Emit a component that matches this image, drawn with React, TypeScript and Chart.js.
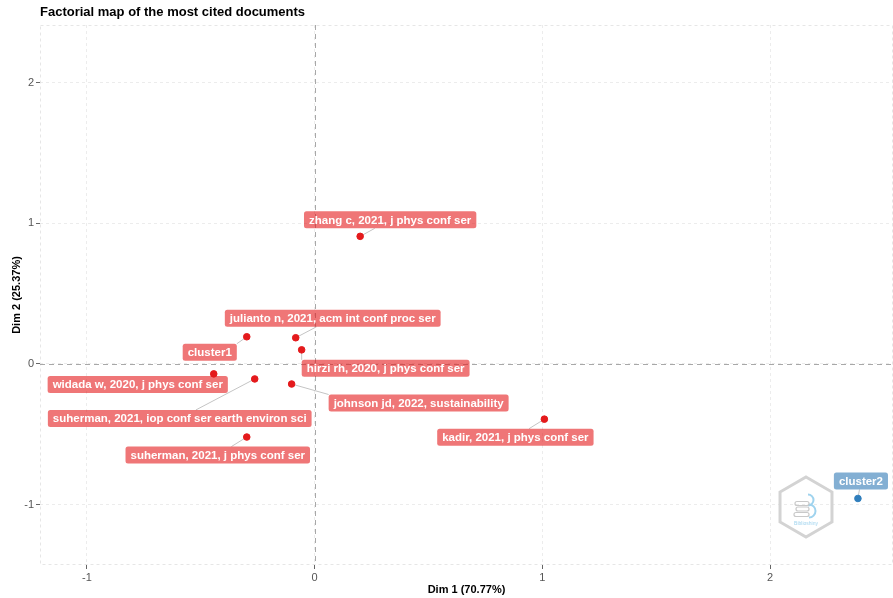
import React, { useEffect, useRef } from "react";
import { Chart, registerables } from "chart.js";

Chart.register(...registerables);

const TITLE = "Factorial map of the most cited documents";
const X_TITLE = "Dim 1 (70.77%)";
const Y_TITLE = "Dim 2 (25.37%)";
const X_TICKS = [-1, 0, 1, 2];
const Y_TICKS = [-1, 0, 1, 2];

const DOCS = [
  "zhang c, 2021, j phys conf ser",
  "julianto n, 2021, acm int conf proc ser",
  "hirzi rh, 2020, j phys conf ser",
  "widada w, 2020, j phys conf ser",
  "suherman, 2021, iop conf ser earth environ sci",
  "johnson jd, 2022, sustainability",
  "suherman, 2021, j phys conf ser",
  "kadir, 2021, j phys conf ser",
];
const DOC_DIM1 = [0.2, -0.083, -0.057, -0.443, -0.263, -0.101, -0.298, 1.009];
const DOC_DIM2 = [0.907, 0.186, 0.1, -0.071, -0.107, -0.143, -0.52, -0.393];

const CLUSTER1 = ["cluster1"];
const CLUSTER1_DIM1 = [-0.298];
const CLUSTER1_DIM2 = [0.193];
const CLUSTER2 = ["cluster2"];
const CLUSTER2_DIM1 = [2.386];
const CLUSTER2_DIM2 = [-0.957];

// label placement offsets (px) relative to their point (repel layout)
const DOC_LABEL_OFFSETS = [
  [30, -16.5],
  [37, -19.5],
  [84, 18.5],
  [-76, 10.5],
  [-75, 39.5],
  [127, 19],
  [-29, 18],
  [-29, 18],
];
const CLUSTER1_LABEL_OFFSETS = [[-37, 15.5]];
const CLUSTER2_LABEL_OFFSETS = [[3, -17.5]];

const RED = "#E41A1C";
const BLUE = "#2F7EBC";
const RED_LABEL = "rgba(228,26,28,0.6)";
const BLUE_LABEL = "rgba(55,126,184,0.62)";
const FONT = "'Liberation Sans', Arial, Helvetica, sans-serif";

const toPts = (xs: number[], ys: number[]) => xs.map((x, i) => ({ x, y: ys[i] }));

function segmentEnd(px: number, py: number, b: any) {
  const xin = px > b.x0 && px < b.x1;
  const yin = py > b.y0 && py < b.y1;
  if (!xin && !yin) {
    const ex = Math.abs(px - b.x0) < Math.abs(px - b.x1) ? b.x0 : b.x1;
    const ey = Math.abs(py - b.y0) < Math.abs(py - b.y1) ? b.y0 : b.y1;
    return [ex, ey];
  }
  const lcx = (b.x0 + b.x1) / 2, lcy = (b.y0 + b.y1) / 2;
  const dx = lcx - px, dy = lcy - py;
  const tx = dx !== 0 ? (dx > 0 ? (b.x0 - px) / dx : (b.x1 - px) / dx) : -1;
  const ty = dy !== 0 ? (dy > 0 ? (b.y0 - py) / dy : (b.y1 - py) / dy) : -1;
  const t = Math.max(tx, ty);
  return [px + dx * t, py + dy * t];
}

const labelsPlugin = {
  id: "repelLabels",
  beforeDatasetsDraw(chart: any) {
    const { ctx, chartArea, scales } = chart;
    ctx.save();
    // panel border
    ctx.strokeStyle = "#e6e6e6";
    ctx.lineWidth = 1;
    ctx.setLineDash([3, 3]);
    ctx.strokeRect(chartArea.left + 0.5, chartArea.top + 0.5, chartArea.right - chartArea.left - 1, chartArea.bottom - chartArea.top - 1);
    // zero lines
    ctx.strokeStyle = "#a8a8a8";
    ctx.setLineDash([5, 4]);
    const x0 = Math.round(scales.x.getPixelForValue(0)) + 0.5;
    const y0 = Math.round(scales.y.getPixelForValue(0)) + 0.5;
    ctx.beginPath();
    ctx.moveTo(x0, chartArea.top);
    ctx.lineTo(x0, chartArea.bottom);
    ctx.moveTo(chartArea.left, y0);
    ctx.lineTo(chartArea.right, y0);
    ctx.stroke();
    ctx.setLineDash([]);

    // logo
    const cx = 806, cy = 507, r = 30;
    ctx.strokeStyle = "#d3d3d3";
    ctx.lineWidth = 3;
    ctx.beginPath();
    for (let k = 0; k < 6; k++) {
      const a = -Math.PI / 2 + (k * Math.PI) / 3;
      const px = cx + r * Math.cos(a);
      const py = cy + r * Math.sin(a);
      if (k === 0) ctx.moveTo(px, py);
      else ctx.lineTo(px, py);
    }
    ctx.closePath();
    ctx.stroke();
    ctx.lineWidth = 2;
    ctx.strokeStyle = "#9fd3ee";
    ctx.beginPath();
    ctx.arc(808, 500, 5.5, -Math.PI / 2, Math.PI / 2);
    ctx.stroke();
    ctx.beginPath();
    ctx.arc(809, 511, 6.5, -Math.PI / 2, Math.PI / 2);
    ctx.stroke();
    ctx.strokeStyle = "#c9c9c9";
    ctx.lineWidth = 1.2;
    const pill = (x: number, y: number, w: number, h: number) => {
      ctx.beginPath();
      ctx.moveTo(x + h / 2, y);
      ctx.lineTo(x + w - h / 2, y);
      ctx.arc(x + w - h / 2, y + h / 2, h / 2, -Math.PI / 2, Math.PI / 2);
      ctx.lineTo(x + h / 2, y + h);
      ctx.arc(x + h / 2, y + h / 2, h / 2, Math.PI / 2, (3 * Math.PI) / 2);
      ctx.stroke();
    };
    pill(795, 501.5, 14, 4);
    pill(796, 507, 13, 4);
    pill(794, 512.5, 15, 4);
    ctx.fillStyle = "#9fd3ee";
    ctx.font = `5px ${FONT}`;
    ctx.textAlign = "center";
    ctx.textBaseline = "middle";
    ctx.fillText("Biblioshiny", 806, 524);

    // segments
    ctx.strokeStyle = "#c4c4c4";
    ctx.lineWidth = 1;
    chart.data.datasets.forEach((ds: any, di: number) => {
      const meta = chart.getDatasetMeta(di);
      meta.data.forEach((el: any, i: number) => {
        const box = labelBox(ctx, el.x, el.y, ds.labelTexts[i], ds.labelOffsets[i]);
        const pad = 4;
        if (el.x > box.x0 - pad && el.x < box.x1 + pad && el.y > box.y0 - pad && el.y < box.y1 + pad) return;
        const [ex, ey] = segmentEnd(el.x, el.y, box);
        const len = Math.hypot(ex - el.x, ey - el.y);
        if (len > 5) {
          const sx = el.x + ((ex - el.x) / len) * 2.5;
          const sy = el.y + ((ey - el.y) / len) * 2.5;
          ctx.beginPath();
          ctx.moveTo(sx, sy);
          ctx.lineTo(ex, ey);
          ctx.stroke();
        }
      });
    });
    ctx.restore();
  },
  afterDatasetsDraw(chart: any) {
    const { ctx } = chart;
    ctx.save();
    chart.data.datasets.forEach((ds: any, di: number) => {
      const meta = chart.getDatasetMeta(di);
      meta.data.forEach((el: any, i: number) => {
        const box = labelBox(ctx, el.x, el.y, ds.labelTexts[i], ds.labelOffsets[i]);
        ctx.fillStyle = ds.labelFill;
        roundRect(ctx, box.x0, box.y0, box.x1 - box.x0, box.y1 - box.y0, 2.5);
        ctx.fill();
        ctx.fillStyle = "#ffffff";
        ctx.font = `bold 11.5px ${FONT}`;
        ctx.textAlign = "center";
        ctx.textBaseline = "middle";
        ctx.fillText(ds.labelTexts[i], (box.x0 + box.x1) / 2, (box.y0 + box.y1) / 2 + 0.5);
      });
    });
    // title
    ctx.fillStyle = "#000";
    ctx.font = `bold 13px ${FONT}`;
    ctx.textAlign = "left";
    ctx.textBaseline = "middle";
    ctx.fillText(TITLE, chart.chartArea.left, 12);
    ctx.restore();
  },
};

function labelBox(ctx: any, px: number, py: number, text: string, off: number[]) {
  ctx.save();
  ctx.font = `bold 11.5px ${FONT}`;
  const w = ctx.measureText(text).width + 10;
  ctx.restore();
  const h = 17;
  const cx = px + off[0], cy = py + off[1];
  return { x0: cx - w / 2, x1: cx + w / 2, y0: cy - h / 2, y1: cy + h / 2 };
}

function roundRect(ctx: any, x: number, y: number, w: number, h: number, r: number) {
  ctx.beginPath();
  ctx.moveTo(x + r, y);
  ctx.lineTo(x + w - r, y);
  ctx.quadraticCurveTo(x + w, y, x + w, y + r);
  ctx.lineTo(x + w, y + h - r);
  ctx.quadraticCurveTo(x + w, y + h, x + w - r, y + h);
  ctx.lineTo(x + r, y + h);
  ctx.quadraticCurveTo(x, y + h, x, y + h - r);
  ctx.lineTo(x, y + r);
  ctx.quadraticCurveTo(x, y, x + r, y);
  ctx.closePath();
}

export default function App() {
  const ref = useRef<HTMLCanvasElement>(null);
  useEffect(() => {
    document.body.style.margin = "0";
    const canvas = ref.current!;
    const gridCommon = {
      color: "#ececec",
      lineWidth: 1,
      drawTicks: true,
      tickLength: 4,
      tickColor: "#666",
      tickWidth: 1,
    };
    const chart = new Chart(canvas, {
      type: "scatter",
      data: {
        datasets: [
          {
            data: toPts(DOC_DIM1, DOC_DIM2),
            backgroundColor: RED,
            borderColor: RED,
            pointRadius: 3.3,
            labelTexts: DOCS,
            labelOffsets: DOC_LABEL_OFFSETS,
            labelFill: RED_LABEL,
          } as any,
          {
            data: toPts(CLUSTER1_DIM1, CLUSTER1_DIM2),
            backgroundColor: RED,
            borderColor: RED,
            pointRadius: 3.3,
            labelTexts: CLUSTER1,
            labelOffsets: CLUSTER1_LABEL_OFFSETS,
            labelFill: RED_LABEL,
          } as any,
          {
            data: toPts(CLUSTER2_DIM1, CLUSTER2_DIM2),
            backgroundColor: BLUE,
            borderColor: BLUE,
            pointRadius: 3.3,
            labelTexts: CLUSTER2,
            labelOffsets: CLUSTER2_LABEL_OFFSETS,
            labelFill: BLUE_LABEL,
          } as any,
        ],
      },
      options: {
        animation: false,
        responsive: false,
        devicePixelRatio: 1,
        layout: { autoPadding: false, padding: { top: 25, right: 0, left: 0, bottom: 0 } },
        plugins: { legend: { display: false }, tooltip: { enabled: false }, title: { display: false } },
        scales: {
          x: {
            type: "linear",
            min: -1.206,
            max: 2.54,
            grid: gridCommon,
            border: { display: false, dash: [3, 3] },
            ticks: { color: "#555", font: { family: FONT, size: 11 }, padding: 2, maxRotation: 0 },
            afterBuildTicks: (s: any) => {
              s.ticks = X_TICKS.map((v) => ({ value: v }));
            },
            afterFit: (s: any) => {
              s.height = 33;
            },
            title: {
              display: true,
              text: X_TITLE,
              color: "#000",
              font: { family: FONT, size: 11, weight: "bold" },
              padding: { top: 0, bottom: 1 },
            },
          },
          y: {
            type: "linear",
            min: -1.43,
            max: 2.41,
            grid: gridCommon,
            border: { display: false, dash: [3, 3] },
            ticks: { color: "#555", font: { family: FONT, size: 11 }, padding: 2 },
            afterBuildTicks: (s: any) => {
              s.ticks = Y_TICKS.map((v) => ({ value: v }));
            },
            afterFit: (s: any) => {
              s.width = 40;
            },
            title: {
              display: true,
              text: Y_TITLE,
              color: "#000",
              font: { family: FONT, size: 11, weight: "bold" },
              padding: { top: 10, bottom: 0 },
            },
          },
        },
      } as any,
      plugins: [labelsPlugin],
    });
    return () => chart.destroy();
  }, []);
  return (
    <div style={{ width: 893, height: 598, background: "#fff" }}>
      <canvas ref={ref} width={893} height={598} style={{ display: "block" }} />
    </div>
  );
}
